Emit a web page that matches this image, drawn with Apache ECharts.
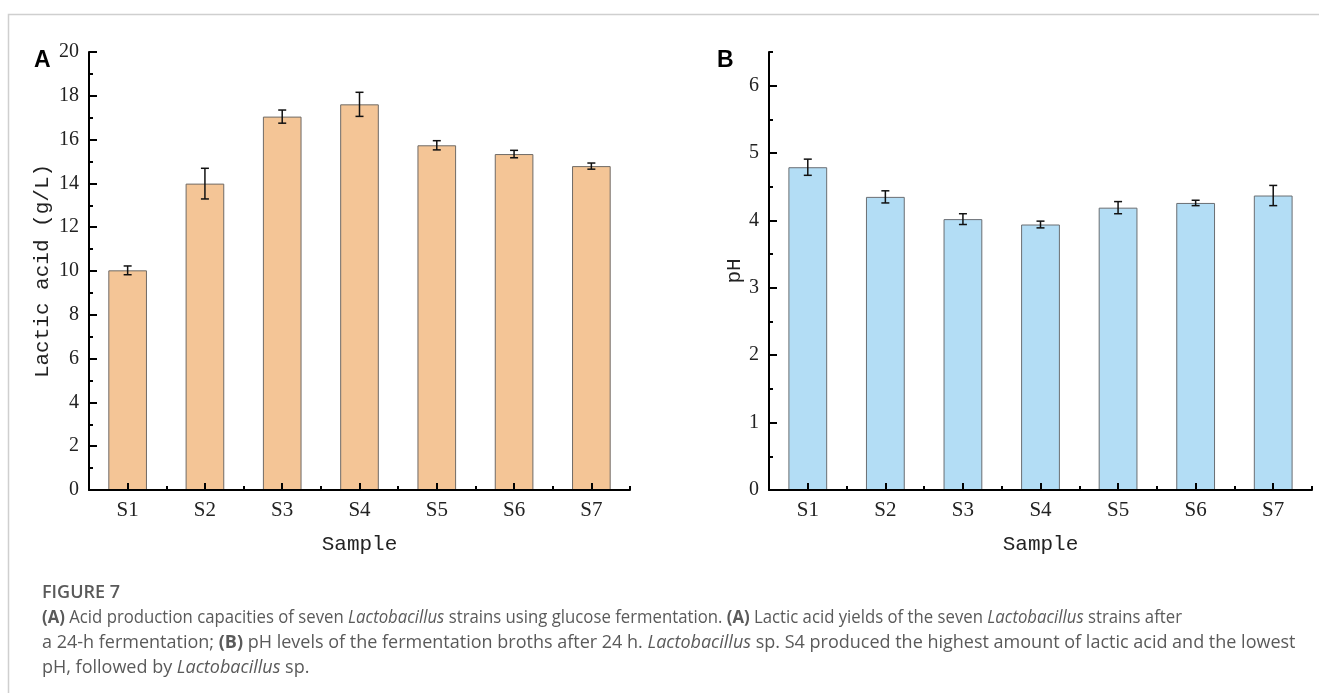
<!DOCTYPE html>
<html>
<head>
<meta charset="utf-8">
<script src="https://cdn.jsdelivr.net/npm/echarts@6/dist/echarts.min.js"></script>
<style>
html,body{margin:0;padding:0;background:#fff;}
#chart{width:1319px;height:693px;}
</style>
</head>
<body>
<div id="chart"></div>
<script>
const categories = ['S1','S2','S3','S4','S5','S6','S7'];
const lacticAcid = [10.03, 13.99, 17.05, 17.61, 15.74, 15.34, 14.79];
const lacticErr  = [0.20, 0.70, 0.30, 0.55, 0.21, 0.17, 0.14];
const pH         = [4.79, 4.35, 4.02, 3.94, 4.19, 4.26, 4.37];
const pHErr      = [0.12, 0.09, 0.08, 0.05, 0.09, 0.04, 0.15];
const yTicksA = [0,2,4,6,8,10,12,14,16,18,20];
const yTicksB = [0,1,2,3,4,5,6];
const yMinorB = [0.5,1.5,2.5,3.5,4.5,5.5,6.5];

const serif = '"Liberation Serif","Times New Roman",serif';
const mono = '"Liberation Mono","DejaVu Sans Mono",monospace';
const sans = '"Open Sans","Noto Sans",sans-serif';

function errData(vals, errs){
  return vals.map((v,i)=>[i, v-errs[i], v+errs[i]]);
}
function errRender(params, api){
  const x = api.value(0);
  const lo = api.coord([x, api.value(1)]);
  const hi = api.coord([x, api.value(2)]);
  const hw = 4;
  const st = {stroke:'#111', lineWidth:1.5};
  return {type:'group', children:[
    {type:'line', shape:{x1:lo[0],y1:lo[1],x2:hi[0],y2:hi[1]}, style:st},
    {type:'line', shape:{x1:lo[0]-hw,y1:lo[1],x2:lo[0]+hw,y2:lo[1]}, style:st},
    {type:'line', shape:{x1:hi[0]-hw,y1:hi[1],x2:hi[0]+hw,y2:hi[1]}, style:st}
  ]};
}

const axisLineStyle = {color:'#000', width:2};
function mainX(gi){
  return {type:'category', gridIndex:gi, data:categories, boundaryGap:true, position:'bottom', z:5,
    axisLine:{show:true, lineStyle:axisLineStyle},
    axisTick:{show:true, inside:true, alignWithLabel:true, length:7, lineStyle:{color:'#000', width:2}},
    axisLabel:{fontFamily:serif, fontSize:21, color:'#222', margin:10},
    name:'Sample', nameLocation:'middle', nameGap:44,
    nameTextStyle:{fontFamily:mono, fontSize:21, color:'#222'},
    splitLine:{show:false}};
}
function minorX(gi){
  return {type:'category', gridIndex:gi, data:categories, boundaryGap:true, position:'bottom', offset:0, z:5,
    axisLine:{show:false},
    axisTick:{show:true, inside:true, length:4, lineStyle:{color:'#000', width:2}},
    axisLabel:{show:false}, splitLine:{show:false}};
}
const rich = {b:{fontWeight:'bold', fontFamily:sans, fontSize:18, fill:'#5a5a5a'},
              i:{fontStyle:'italic', fontFamily:sans, fontSize:18, fill:'#5a5a5a'}};

const option = {
  backgroundColor:'#fff',
  animation:false,
  grid:[
    {left:89, top:52, width:541, height:438},
    {left:769, top:52, width:543, height:438}
  ],
  xAxis:[mainX(0), minorX(0), mainX(1), minorX(1)],
  yAxis:[
    {type:'value', gridIndex:0, min:0, max:20, interval:2, position:'left', z:5,
      axisLine:{show:true, lineStyle:axisLineStyle},
      axisTick:{show:true, inside:true, length:8, lineStyle:{color:'#000', width:2}},
      minorTick:{show:true, splitNumber:2, length:4, lineStyle:{color:'#000', width:2}},
      axisLabel:{fontFamily:serif, fontSize:20, color:'#222', margin:10, customValues:yTicksA},
      splitLine:{show:false},
      name:'Lactic acid (g/L)', nameLocation:'middle', nameGap:36,
      nameTextStyle:{fontFamily:mono, fontSize:21, color:'#222'}},
    {type:'value', gridIndex:1, min:0, max:6.5, position:'left', z:5,
      axisLine:{show:true, lineStyle:axisLineStyle},
      axisTick:{show:true, inside:true, length:8, customValues:yTicksB, lineStyle:{color:'#000', width:2}},
      axisLabel:{fontFamily:serif, fontSize:20, color:'#222', margin:10, customValues:yTicksB},
      splitLine:{show:false},
      name:'pH', nameLocation:'middle', nameGap:19,
      nameTextStyle:{fontFamily:mono, fontSize:21, color:'#222'}},
    {type:'value', gridIndex:1, min:0, max:6.5, position:'left', offset:0, z:5,
      axisLine:{show:false},
      axisTick:{show:true, inside:true, length:4, customValues:yMinorB, lineStyle:{color:'#000', width:2}},
      axisLabel:{show:false}, splitLine:{show:false}}
  ],
  series:[
    {type:'bar', xAxisIndex:0, yAxisIndex:0, data:lacticAcid, barWidth:'50%', z:2,
      itemStyle:{color:'#F4C596', borderColor:'#6f6a66', borderWidth:1}},
    {type:'custom', xAxisIndex:0, yAxisIndex:0, data:errData(lacticAcid, lacticErr),
      renderItem:errRender, z:6},
    {type:'bar', xAxisIndex:2, yAxisIndex:1, data:pH, barWidth:'50%', z:2,
      itemStyle:{color:'#B3DDF5', borderColor:'#6a6e72', borderWidth:1}},
    {type:'custom', xAxisIndex:2, yAxisIndex:1, data:errData(pH, pHErr),
      renderItem:errRender, z:6}
  ],
  graphic:[
    {type:'rect', z:-10, shape:{x:8.5, y:14.5, width:1400, height:800},
      style:{fill:'none', stroke:'#cfcfcf', lineWidth:1.5}},
    {type:'text', left:34, top:49, style:{text:'A', font:'bold 23px "Liberation Sans",Arial,sans-serif', fill:'#000'}},
    {type:'text', left:717, top:49, style:{text:'B', font:'bold 23px "Liberation Sans",Arial,sans-serif', fill:'#000'}},
    {type:'text', left:42, top:584, style:{text:'FIGURE 7', font:'600 18px '+sans, fill:'#5a5a5a'}},
    {type:'text', x:42, y:609, scaleX:0.93, style:{
      text:'{b|(A)} Acid production capacities of seven {i|Lactobacillus} strains using glucose fermentation. {b|(A)} Lactic acid yields of the seven {i|Lactobacillus} strains after',
      font:'18px '+sans, fill:'#5a5a5a', rich:rich}},
    {type:'text', left:42, top:634, style:{
      text:'a 24-h fermentation; {b|(B)} pH levels of the fermentation broths after 24 h. {i|Lactobacillus} sp. S4 produced the highest amount of lactic acid and the lowest',
      font:'18px '+sans, fill:'#5a5a5a', rich:rich}},
    {type:'text', left:42, top:659, style:{
      text:'pH, followed by {i|Lactobacillus} sp.',
      font:'18px '+sans, fill:'#5a5a5a', rich:rich}}
  ]
};
const chart = echarts.init(document.getElementById('chart'), null, {renderer:'canvas'});
chart.setOption(option);
</script>
</body>
</html>
